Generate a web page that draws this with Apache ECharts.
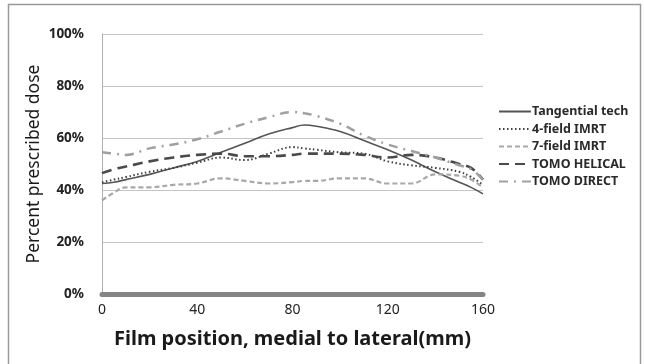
<!DOCTYPE html>
<html>
<head>
<meta charset="utf-8">
<script src="https://cdn.jsdelivr.net/npm/echarts@6/dist/echarts.min.js"></script>
<style>
  body{margin:0;background:#fff;}
  #chart{width:645px;height:364px;}
</style>
</head>
<body>
<div id="chart"></div>
<script>
// film position (mm)
var positions = [0, 5, 10, 20, 30, 40, 50, 60, 70, 80, 85, 90, 100, 110, 120, 130, 140, 150, 155, 160];
// percent prescribed dose, one list per technique
var tangential = [42.5, 43, 44, 46, 48.5, 51, 54.5, 58, 61.5, 64, 65, 64.5, 62.5, 59, 55.5, 51.5, 47, 43, 41, 38.5];
var field4 = [43, 44, 45, 47, 48.5, 50.5, 52.5, 51.5, 54, 56.5, 56, 55.5, 54.5, 54, 51, 49.5, 48.5, 47, 45, 42];
var field7 = [36, 39, 41, 41, 42, 42.5, 44.5, 43.5, 42.5, 43, 43.5, 43.5, 44.5, 44.5, 42.5, 42.5, 46, 45.5, 44, 41];
var tomoHelical = [46.5, 48, 49, 51, 52.5, 53.5, 54, 53, 53, 53.5, 54, 54, 54, 53.5, 52.5, 53.5, 52.5, 50, 48.5, 44];
var tomoDirect = [54.5, 54, 53.5, 56, 57.5, 59.5, 62.5, 65.5, 68, 70, 69.5, 68.5, 65.5, 61, 57.5, 55, 52.5, 49.5, 48, 44];

var seriesNames = ['Tangential tech', '4-field IMRT', '7-field IMRT', 'TOMO HELICAL', 'TOMO DIRECT'];
var yTicks = [0, 20, 40, 60, 80, 100];
var xTicks = [0, 40, 80, 120, 160];

function pairs(vals){
	var out = [];
	for (var i = 0; i < positions.length; i++) {
		out.push([positions[i], vals[i]]);
	}
	return out;
}

var styles = [
	{color:'#555555', width:1.6, type:'solid'},
	{color:'#404040', width:2, type:[1.5, 2.5]},
	{color:'#a8a8a8', width:2.2, type:[5, 3]},
	{color:'#4a4a4a', width:2.6, type:[10, 6]},
	{color:'#a0a0a0', width:2.5, type:[9, 6, 2, 6]}
];
var allData = [tangential, field4, field7, tomoHelical, tomoDirect];

var series = [];
for (var i = 0; i < seriesNames.length; i++) {
	series.push({
		name: seriesNames[i],
		type: 'line',
		smooth: 0.4,
		symbol: 'none',
		lineStyle: styles[i],
		itemStyle: {color: styles[i].color},
		data: pairs(allData[i])
	});
}

var chart = echarts.init(document.getElementById('chart'));
chart.setOption({
	animation: false,
	textStyle: {fontFamily: 'Noto Sans'},
	graphic: [{
		type: 'rect',
		shape: {x: 8.5, y: 4.5, width: 632, height: 380},
		style: {fill: 'none', stroke: '#9a9a9a', lineWidth: 1.5},
		silent: true
	}],
	grid: {left: 102, right: 162, top: 34, bottom: 70},
	legend: {
		orient: 'vertical',
		left: 493,
		top: 100,
		itemWidth: 32,
		itemHeight: 12,
		itemGap: 4.5,
		itemStyle: {opacity: 0},
		textStyle: {fontSize: 12.5, fontWeight: 'bold', color: '#2a2a2a', padding: [0, 0, 0, -4]},
		data: seriesNames
	},
	xAxis: {
		type: 'value',
		min: xTicks[0],
		max: xTicks[xTicks.length - 1],
		interval: 40,
		name: 'Film position, medial to lateral(mm)',
		nameLocation: 'middle',
		nameGap: 35,
		nameMoveOverlap: false,
		nameTextStyle: {fontSize: 20, fontWeight: 'bold', color: '#1a1a1a'},
		axisLine: {show: true, onZero: false, lineStyle: {color: '#858585', width: 5}},
		axisTick: {show: false},
		axisLabel: {fontSize: 14, color: '#222', margin: 9},
		splitLine: {show: false}
	},
	yAxis: {
		type: 'value',
		min: yTicks[0],
		max: yTicks[yTicks.length - 1],
		interval: 20,
		name: 'Percent prescribed dose',
		nameLocation: 'middle',
		nameGap: 59,
		nameMoveOverlap: false,
		nameTextStyle: {fontSize: 17.5, color: '#1a1a1a'},
		axisLine: {show: true, lineStyle: {color: '#b0b0b0', width: 1}},
		axisTick: {show: false},
		axisLabel: {fontSize: 13.5, fontWeight: 'bold', color: '#222', margin: 18, formatter: '{value}%'},
		splitLine: {lineStyle: {color: '#c4c4c4', width: 1}}
	},
	series: series
});
</script>
</body>
</html>
